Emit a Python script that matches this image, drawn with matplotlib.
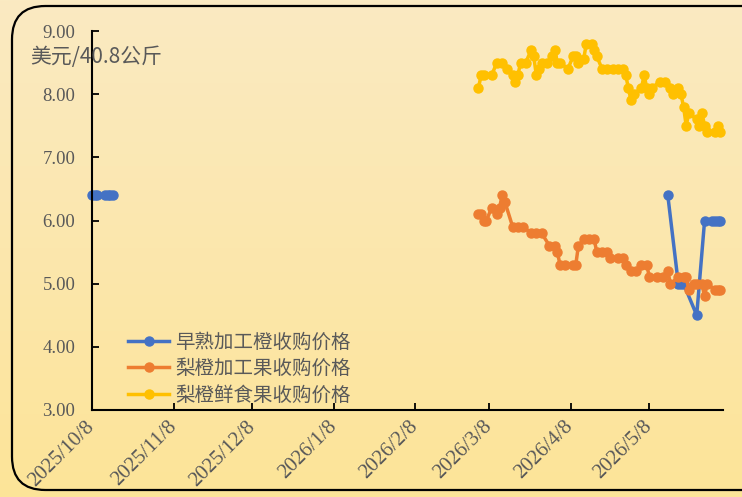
import numpy as np
import pandas as pd
import matplotlib
matplotlib.use("Agg")
import matplotlib.pyplot as plt
import matplotlib.dates as mdates
from matplotlib.patches import FancyBboxPatch
from matplotlib.ticker import FuncFormatter, FormatStrFormatter

# --- data ---
blue_dates = ["2025-10-08", "2025-10-09", "2025-10-10", "2025-10-13", "2025-10-14",
              "2025-10-15", "2025-10-16", "2025-10-17",
              "2026-05-15", "2026-05-19", "2026-05-20", "2026-05-21", "2026-05-26",
              "2026-05-29", "2026-06-01", "2026-06-02", "2026-06-03", "2026-06-04"]
blue_vals = [6.4, 6.4, 6.4, 6.4, 6.4, 6.4, 6.4, np.nan,
             6.4, 5.0, 5.0, 5.0, 4.5, 6.0, 6.0, 6.0, 6.0, 6.0]

orange_dates = ["2026-03-04", "2026-03-05", "2026-03-06", "2026-03-07", "2026-03-09",
                "2026-03-11", "2026-03-12", "2026-03-13", "2026-03-14", "2026-03-17",
                "2026-03-19", "2026-03-21", "2026-03-24", "2026-03-26", "2026-03-28",
                "2026-03-31", "2026-04-02", "2026-04-03", "2026-04-04", "2026-04-06",
                "2026-04-09", "2026-04-10", "2026-04-11", "2026-04-13", "2026-04-15",
                "2026-04-17", "2026-04-18", "2026-04-20", "2026-04-22", "2026-04-23",
                "2026-04-26", "2026-04-28", "2026-04-29", "2026-05-01", "2026-05-03",
                "2026-05-05", "2026-05-07", "2026-05-08", "2026-05-11", "2026-05-13",
                "2026-05-15", "2026-05-16", "2026-05-19", "2026-05-21", "2026-05-22",
                "2026-05-23", "2026-05-25", "2026-05-26", "2026-05-28", "2026-05-29",
                "2026-05-30", "2026-06-02", "2026-06-03", "2026-06-04"]
orange_vals = [6.1, 6.1, 6.0, 6.0, 6.2, 6.1, 6.2, 6.4, 6.3, 5.9,
               5.9, 5.9, 5.8, 5.8, 5.8, 5.6, 5.6, 5.5, 5.3, 5.3,
               5.3, 5.3, 5.6, 5.7, 5.7, 5.7, 5.5, 5.5, 5.5, 5.4,
               5.4, 5.4, 5.3, 5.2, 5.2, 5.3, 5.3, 5.1, 5.1, 5.1,
               5.2, 5.0, 5.1, 5.1, 5.1, 4.9, 5.0, 5.0, 5.0, 4.8,
               5.0, 4.9, 4.9, 4.9]

yellow_dates = ["2026-03-04", "2026-03-05", "2026-03-06", "2026-03-09", "2026-03-11",
                "2026-03-13", "2026-03-15", "2026-03-17", "2026-03-18", "2026-03-19",
                "2026-03-20", "2026-03-22", "2026-03-24", "2026-03-25", "2026-03-26",
                "2026-03-27", "2026-03-28", "2026-03-30", "2026-04-01", "2026-04-02",
                "2026-04-03", "2026-04-04", "2026-04-07", "2026-04-09", "2026-04-10",
                "2026-04-11", "2026-04-13", "2026-04-14", "2026-04-16", "2026-04-17",
                "2026-04-18", "2026-04-20", "2026-04-22", "2026-04-24", "2026-04-26",
                "2026-04-28", "2026-04-29", "2026-04-30", "2026-05-01", "2026-05-02",
                "2026-05-05", "2026-05-06", "2026-05-07", "2026-05-08", "2026-05-09",
                "2026-05-12", "2026-05-14", "2026-05-16", "2026-05-17", "2026-05-19",
                "2026-05-20", "2026-05-21", "2026-05-22", "2026-05-23", "2026-05-26",
                "2026-05-27", "2026-05-28", "2026-05-29", "2026-05-30", "2026-06-02",
                "2026-06-03", "2026-06-04"]
yellow_vals = [8.1, 8.3, 8.3, 8.3, 8.5, 8.5, 8.4, 8.3, 8.2, 8.3,
               8.5, 8.5, 8.7, 8.6, 8.3, 8.4, 8.5, 8.5, 8.6, 8.7,
               8.5, 8.5, 8.4, 8.6, 8.6, 8.5, 8.55, 8.8, 8.8, 8.7,
               8.6, 8.4, 8.4, 8.4, 8.4, 8.4, 8.3, 8.1, 7.9, 8.0,
               8.1, 8.3, 8.1, 8.0, 8.1, 8.2, 8.2, 8.1, 8.0, 8.1,
               8.0, 7.8, 7.5, 7.7, 7.6, 7.5, 7.7, 7.5, 7.4, 7.4,
               7.5, 7.4]

labels = ["早熟加工橙收购价格", "梨橙加工果收购价格", "梨橙鲜食果收购价格"]
colors = ["#4472C4", "#ED7D31", "#FFC000"]
y_unit = "美元/40.8公斤"

tick_font = "Liberation Serif"
cjk_font = ["Noto Sans CJK SC", "DejaVu Sans"]
text_color = "#595959"

fig = plt.figure(figsize=(7.42, 4.97), dpi=100)

# background gradient
bg = fig.add_axes([0, 0, 1, 1], zorder=-10)
grad = np.linspace(0, 1, 256).reshape(-1, 1)
top = np.array([250, 234, 194]) / 255
bot = np.array([253, 228, 152]) / 255
img = top + (bot - top) * grad[:, :, None]
bg.imshow(img, aspect="auto", extent=[0, 1, 0, 1])
bg.set_axis_off()
border = FancyBboxPatch((12 / 742, 1 - 490 / 497), 1.2, (490 - 6) / 497,
                        boxstyle="round,pad=0,rounding_size=0.045",
                        transform=fig.transFigure, fill=False, ec="black", lw=1.6,
                        mutation_aspect=742 / 497)
fig.patches.append(border)

ax = fig.add_axes([92 / 742, 1 - 410 / 497, (723 - 92) / 742, (410 - 31) / 497])
ax.patch.set_alpha(0)

series = [(blue_dates, blue_vals), (orange_dates, orange_vals), (yellow_dates, yellow_vals)]
for (d, v), lab, c in zip(series, labels, colors):
    ax.plot(pd.to_datetime(d), v, "-o", color=c, lw=2.5, ms=6.5, label=lab, clip_on=False)

ax.set_ylim(3, 9)
ax.set_yticks(np.arange(3, 9.01, 1))
ax.yaxis.set_major_formatter(FormatStrFormatter("%.2f"))
ax.set_xlim(pd.Timestamp("2025-10-08"), pd.Timestamp("2026-06-05"))
ax.xaxis.set_major_locator(mdates.MonthLocator(bymonthday=8))
ax.xaxis.set_major_formatter(FuncFormatter(
    lambda x, pos: "{0}/{1}/{2}".format(*mdates.num2date(x).timetuple()[:3])))

for s in ["top", "right"]:
    ax.spines[s].set_visible(False)
for s in ["left", "bottom"]:
    ax.spines[s].set_linewidth(1.5)
ax.tick_params(axis="both", direction="in", length=5, width=1.3, colors="black",
               labelcolor=text_color)
ax.tick_params(axis="y", pad=12)
for t in ax.get_yticklabels():
    t.set_fontfamily(tick_font)
    t.set_fontsize(13.5)
for t in ax.get_xticklabels():
    t.set_fontfamily(tick_font)
    t.set_fontsize(15)
    t.set_rotation(45)
    t.set_ha("right")
    t.set_va("center")
    t.set_rotation_mode("anchor")
ax.tick_params(axis="x", pad=10)

fig.text(30 / 742, 1 - 57 / 497, y_unit, family=cjk_font, fontsize=15,
         color=text_color, ha="left", va="center")

leg = ax.legend(loc="upper left", bbox_to_anchor=(0.045, 0.228), frameon=False,
                prop={"family": cjk_font, "size": 14}, labelcolor=text_color,
                handlelength=2.1, handletextpad=0.3, labelspacing=0.3,
                borderaxespad=0)

fig.savefig("out.png", dpi=100)
